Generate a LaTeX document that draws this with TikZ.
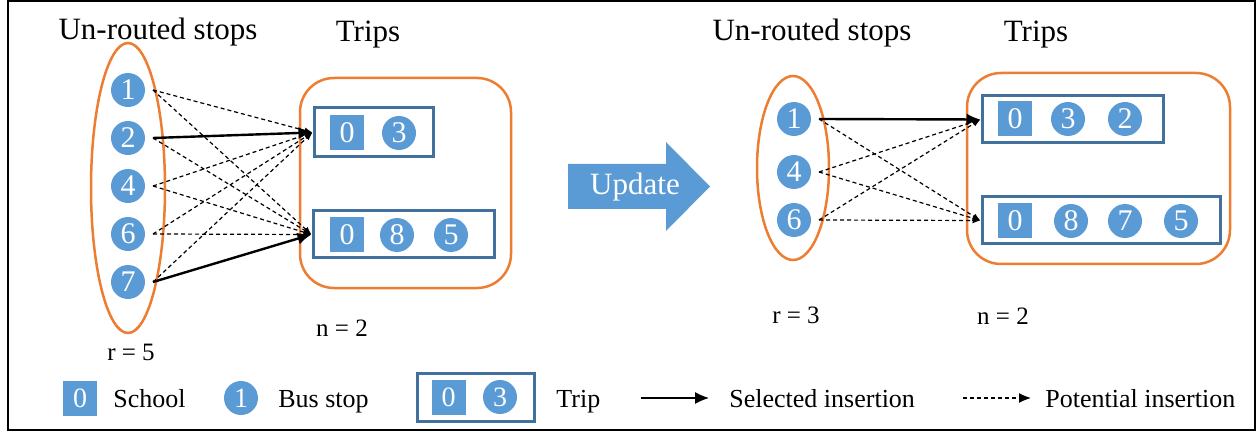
\documentclass[tikz,border=0pt]{standalone}
\usepackage{fontspec}
\setmainfont{Liberation Serif}
\usetikzlibrary{arrows.meta,shapes.geometric}
\definecolor{stopblue}{HTML}{5B9BD5}
\definecolor{tripblue}{HTML}{41719C}
\definecolor{setorange}{HTML}{ED7D31}
\begin{document}
\begin{tikzpicture}[x=0.5pt,y=-0.5pt,
 busstop/.style={circle,fill=stopblue,text=white,minimum size=17pt,inner sep=0pt,outer sep=4pt,font=\fontsize{15}{15}\selectfont},
 school/.style={fill=stopblue,text=white,minimum width=17pt,minimum height=17.5pt,inner sep=0pt,font=\fontsize{15}{15}\selectfont},
 tripbox/.style={draw=tripblue,line width=1.5pt,inner sep=0pt},
 setbox/.style={draw=setorange,line width=1.25pt,inner sep=0pt},
 chosen/.style={-{Latex[length=7pt,width=6pt]},line width=1.2pt},
 maybe/.style={-{Latex[length=4pt,width=3pt]},line width=0.6pt,dash pattern=on 2pt off 1.5pt},
 title/.style={font=\fontsize{15.5}{16}\selectfont},
 settext/.style={font=\fontsize{12.5}{13}\selectfont},
 legtext/.style={font=\fontsize{13}{13}\selectfont,anchor=base west,inner sep=0pt}]
\useasboundingbox (0,0) rectangle (1260,433);
\draw[line width=1pt] (8,1.5) rectangle (1255,430);
\node[setbox,ellipse,minimum width=37pt,minimum height=145pt] (lset) at (128,188) {};
\foreach \n/\y in {1/90,2/138,4/186,6/234,7/282}
{
    \node[busstop] (l\n) at (128,\y) {\n};
}
\node[setbox,rounded corners=17pt,minimum width=105.5pt,minimum height=105pt] (ltrips) at (405.5,183) {};
\node[tripbox,minimum width=59.5pt,minimum height=24.5pt] (lt1) at (373.5,132.5) {};
\node[tripbox,minimum width=90.5pt,minimum height=23.5pt] (lt2) at (403.5,234.5) {};
\node[school] (lt1s) at (347,133) {0};
\node[busstop] (lt13) at (399,133) {3};
\node[school] (lt2s) at (347,235) {0};
\foreach \n/\x in {8/397,5/451}
{
    \node[busstop] (lt2\n) at (\x,235) {\n};
}
\draw[chosen] (l2.east)--(lt1.west);
\draw[chosen] (l7.east)--(lt2.west);
\foreach \n in {1,4,6,7}
    \draw[maybe] (l\n.east)--(lt1.west);
\foreach \n in {1,2,4,6}
    \draw[maybe] (l\n.east)--(lt2.west);
\node[title] (lhead) at (158,32) {Un-routed stops};
\node[title] (lthead) at (368,35) {Trips};
\node[settext] (lr) at (131,352) {r = 5};
\node[settext] (ln) at (342,328) {n = 2};
\fill[stopblue] (568,164)--(666,164)--(666,142)--(710,186.5)--(666,231)--(666,209)--(568,209)--cycle;
\node[title,text=white] (upd) at (635,187) {Update};
\node[setbox,ellipse,minimum width=36pt,minimum height=92pt] (rset) at (793,168) {};
\foreach \n/\y in {1/119,4/172,6/220}
{
    \node[busstop] (r\n) at (794,\y) {\n};
}
\node[setbox,rounded corners=17pt,minimum width=131.5pt,minimum height=95.5pt] (rtrips) at (1098.5,168.5) {};
\node[tripbox,minimum width=90.5pt,minimum height=23.5pt] (rt1) at (1072.5,119.5) {};
\node[tripbox,minimum width=119pt,minimum height=23.5pt] (rt2) at (1101,220.5) {};
\node[school] (rt1s) at (1015,119) {0};
\foreach \n/\x in {3/1068,2/1125}
{
    \node[busstop] (rt1\n) at (\x,119) {\n};
}
\node[school] (rt2s) at (1015,221) {0};
\foreach \n/\x in {8/1071,7/1125,5/1181}
{
    \node[busstop] (rt2\n) at (\x,221) {\n};
}
\draw[chosen] (r1.east)--(rt1.west);
\foreach \n in {4,6}
    \draw[maybe] (r\n.east)--(rt1.west);
\foreach \n in {1,4,6}
    \draw[maybe] (r\n.east)--(rt2.west);
\node[title] (rhead) at (812,33) {Un-routed stops};
\node[title] (rthead) at (1036,35) {Trips};
\node[settext] (rr) at (796,315) {r = 3};
\node[settext] (rn) at (1003,316) {n = 2};
\node[school,font=\fontsize{14}{14}\selectfont] (kschool) at (80,398) {0};
\node[legtext] (kschooltext) at (113,407) {School};
\node[busstop,font=\fontsize{14}{14}\selectfont] (kstop) at (241,398) {1};
\node[legtext] (kstoptext) at (278,407) {Bus stop};
\node[tripbox,minimum width=58.5pt,minimum height=24pt] (ktrip) at (475.5,397) {};
\node[school,font=\fontsize{14}{14}\selectfont] (ktrips) at (448.5,397) {0};
\node[busstop,font=\fontsize{14}{14}\selectfont] (ktripa) at (500,397) {3};
\node[legtext] (ktriptext) at (556,407) {Trip};
\coordinate (ksa) at (641,398);
\coordinate (ksb) at (709,398);
\draw[chosen,line width=0.6pt] (ksa)--(ksb);
\node[legtext] (kseltext) at (729,407) {Selected insertion};
\coordinate (kpa) at (963,398);
\coordinate (kpb) at (1031,398);
\draw[maybe,-{Latex[length=6pt,width=5pt]}] (kpa)--(kpb);
\node[legtext] (kpottext) at (1045,407) {Potential insertion};
\end{tikzpicture}
\end{document}
